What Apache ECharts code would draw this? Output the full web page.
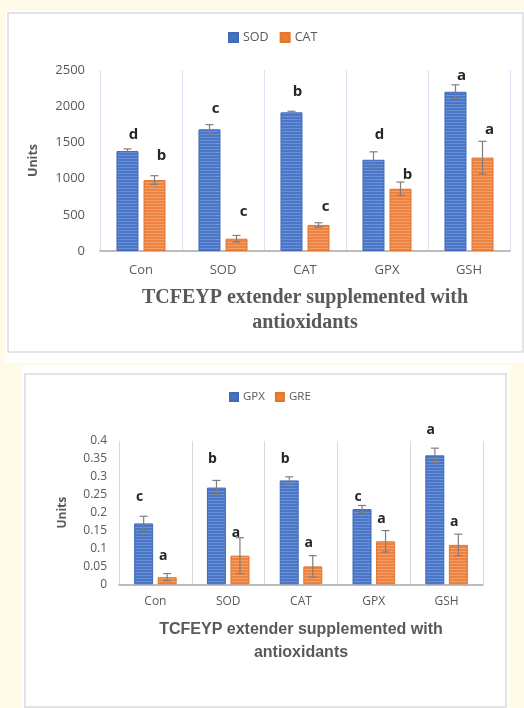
<!DOCTYPE html>
<html><head><meta charset="utf-8">
<script src="https://cdn.jsdelivr.net/npm/echarts@6/dist/echarts.min.js"></script>
<style>html,body{margin:0;padding:0;background:#fffbe8;}#c{width:524px;height:708px;}</style>
</head><body><div id="c"></div>
<script>
// ---- Chart 1 data ----
const categories = ['Con', 'SOD', 'CAT', 'GPX', 'GSH'];
const sodValues = [1380, 1680, 1915, 1260, 2200];
const sodErrors = [30, 65, 15, 110, 95];
const sodLetters = ['d', 'c', 'b', 'd', 'a'];
const sodLetterY = [1600, 1960, 2200, 1600, 2420];
const catValues = [980, 170, 360, 860, 1290];
const catErrors = [60, 45, 30, 92, 225];
const catLetters = ['b', 'c', 'c', 'b', 'a'];
const catLetterY = [1310, 540, 610, 1050, 1670];
const yTicks1 = [0, 500, 1000, 1500, 2000, 2500];

// ---- Chart 2 data ----
const gpxValues = [0.17, 0.27, 0.29, 0.21, 0.36];
const gpxErrors = [0.02, 0.02, 0.01, 0.01, 0.02];
const gpxLetters = ['c', 'b', 'b', 'c', 'a'];
const gpxLetterY = [0.245, 0.349, 0.351, 0.245, 0.431];
const greValues = [0.02, 0.08, 0.05, 0.12, 0.11];
const greErrors = [0.01, 0.05, 0.03, 0.03, 0.03];
const greLetters = ['a', 'a', 'a', 'a', 'a'];
const greLetterY = [0.080, 0.142, 0.116, 0.182, 0.175];
const yTicks2 = [0, 0.05, 0.1, 0.15, 0.2, 0.25, 0.3, 0.35, 0.4];

const axisTitle = 'TCFEYP extender supplemented with\nantioxidants';

const BLUE = '#4472c4', ORANGE = '#ed7d31', GREY = '#595959';

function stripes(base, light) {
  const c = document.createElement('canvas');
  c.width = 4; c.height = 3;
  const g = c.getContext('2d');
  g.fillStyle = base; g.fillRect(0, 0, 4, 3);
  g.fillStyle = light; g.fillRect(0, 2, 4, 1);
  return { image: c, repeat: 'repeat' };
}

function errSeries(gridIdx, values, errors, letters, letterY, side, barW, gap, dx, fontSize) {
  const data = values.map((v, i) => [i, v, errors[i], letterY[i]]);
  return {
    type: 'custom', xAxisIndex: gridIdx, yAxisIndex: gridIdx, z: 10, silent: true,
    data: data, encode: { x: 0, y: 1 }, clip: false,
    renderItem: function (params, api) {
      const i = api.value(0), v = api.value(1), e = api.value(2), ly = api.value(3);
      const c = api.coord([i, v]);
      const x = c[0] + side * (barW + gap) / 2;
      const hi = api.coord([i, v + e])[1];
      const lo = api.coord([i, v - e])[1];
      const t = api.coord([i, ly])[1];
      const st = { stroke: '#7f7f7f', lineWidth: 1.2 };
      return { type: 'group', children: [
        { type: 'line', shape: { x1: x, y1: hi, x2: x, y2: lo }, style: st },
        { type: 'line', shape: { x1: x - 4, y1: hi, x2: x + 4, y2: hi }, style: st },
        { type: 'line', shape: { x1: x - 4, y1: lo, x2: x + 4, y2: lo }, style: st },
        { type: 'text', x: x + dx, y: t, style: { text: letters[i], fill: '#262626', font: 'bold ' + fontSize + 'px "Open Sans"', textAlign: 'center', textVerticalAlign: 'middle' } }
      ]};
    }
  };
}

const chart = echarts.init(document.getElementById('c'), null, { renderer: 'canvas' });
const opt = {
  animation: false,
  backgroundColor: '#fffbe8',
  graphic: [
    { type: 'rect', shape: { x: 5, y: 10, width: 519, height: 353 }, style: { fill: '#ffffff' }, z: -10 },
    { type: 'rect', shape: { x: 8, y: 13, width: 515, height: 339 }, style: { fill: '#ffffff', stroke: '#dcdcdc', lineWidth: 1.5 }, z: -9 },
    { type: 'rect', shape: { x: 22, y: 365, width: 488, height: 343 }, style: { fill: '#ffffff' }, z: -10 },
    { type: 'rect', shape: { x: 25, y: 374, width: 481, height: 333 }, style: { fill: '#ffffff', stroke: '#dcdcdc', lineWidth: 1.5 }, z: -9 }
  ],
  legend: [
    { left: 223, top: 26, itemWidth: 9, itemHeight: 9, itemGap: 11, icon: 'rect',
      textStyle: { color: GREY, fontSize: 12.5, fontFamily: 'Open Sans' },
      data: [{ name: 'SOD', itemStyle: { color: BLUE } }, { name: 'CAT', itemStyle: { color: ORANGE } }] },
    { left: 224, top: 386, itemWidth: 8, itemHeight: 8, itemGap: 10, icon: 'rect',
      textStyle: { color: GREY, fontSize: 11.5, fontFamily: 'Open Sans' },
      data: [{ name: 'GPX', itemStyle: { color: BLUE } }, { name: 'GRE', itemStyle: { color: ORANGE } }] }
  ],
  grid: [
    { left: 100, top: 70, width: 410, height: 181 },
    { left: 119, top: 441, width: 364, height: 143.3 }
  ],
  xAxis: [
    { type: 'category', gridIndex: 0, data: categories,
      axisLine: { lineStyle: { color: '#a6a6a6', width: 1.5 } }, axisTick: { show: false },
      axisLabel: { color: GREY, fontSize: 13, fontFamily: 'Open Sans', margin: 13 },
      splitLine: { show: true, lineStyle: { color: '#d9e2f3', width: 1 } },
      name: axisTitle, nameLocation: 'middle', nameGap: 34,
      nameTextStyle: { color: GREY, fontFamily: 'Liberation Serif', fontWeight: 'bold', fontSize: 20, lineHeight: 25 } },
    { type: 'category', gridIndex: 1, data: categories,
      axisLine: { lineStyle: { color: '#a6a6a6', width: 1.5 } }, axisTick: { show: false },
      axisLabel: { color: GREY, fontSize: 12, fontFamily: 'Open Sans', margin: 11 },
      splitLine: { show: true, lineStyle: { color: '#d9d9d9', width: 1 } },
      name: axisTitle, nameLocation: 'middle', nameGap: 33.5,
      nameTextStyle: { color: GREY, fontFamily: 'Liberation Sans', fontWeight: 'bold', fontSize: 16, lineHeight: 23 } }
  ],
  yAxis: [
    { type: 'value', gridIndex: 0, min: yTicks1[0], max: yTicks1[yTicks1.length - 1], interval: yTicks1[1] - yTicks1[0],
      axisLine: { show: false }, axisTick: { show: false }, splitLine: { show: false },
      axisLabel: { color: GREY, fontSize: 13, fontFamily: 'Open Sans', margin: 15, formatter: v => String(v) },
      name: 'Units', nameLocation: 'middle', nameGap: 60,
      nameTextStyle: { color: GREY, fontSize: 12.5, fontWeight: 'bold', fontFamily: 'Open Sans' } },
    { type: 'value', gridIndex: 1, min: yTicks2[0], max: yTicks2[yTicks2.length - 1], interval: 0.05,
      axisLine: { show: false }, axisTick: { show: false }, splitLine: { show: false },
      axisLabel: { color: GREY, fontSize: 12, fontFamily: 'Open Sans', margin: 12,
        formatter: v => String(+v.toFixed(2)) },
      name: 'Units', nameLocation: 'middle', nameGap: 50,
      nameTextStyle: { color: GREY, fontSize: 12, fontWeight: 'bold', fontFamily: 'Open Sans' } }
  ],
  series: [
    { name: 'SOD', type: 'bar', xAxisIndex: 0, yAxisIndex: 0, data: sodValues, barWidth: 22, barGap: '23%',
      itemStyle: { color: stripes('#4a76c8', '#6e92d8'), borderColor: '#4069ba', borderWidth: 1 } },
    { name: 'CAT', type: 'bar', xAxisIndex: 0, yAxisIndex: 0, data: catValues, barWidth: 22, barGap: '23%',
      itemStyle: { color: stripes('#ee8240', '#f4a06a'), borderColor: '#e2762c', borderWidth: 1 } },
    { name: 'GPX', type: 'bar', xAxisIndex: 1, yAxisIndex: 1, data: gpxValues, barWidth: 19, barGap: '24%',
      itemStyle: { color: stripes('#4a76c8', '#6e92d8'), borderColor: '#4069ba', borderWidth: 1 } },
    { name: 'GRE', type: 'bar', xAxisIndex: 1, yAxisIndex: 1, data: greValues, barWidth: 19, barGap: '24%',
      itemStyle: { color: stripes('#ee8240', '#f4a06a'), borderColor: '#e2762c', borderWidth: 1 } },
    errSeries(0, sodValues, sodErrors, sodLetters, sodLetterY, -1, 22, 5, 6, 15),
    errSeries(0, catValues, catErrors, catLetters, catLetterY, 1, 22, 5, 7, 15),
    errSeries(1, gpxValues, gpxErrors, gpxLetters, gpxLetterY, -1, 19, 4.5, -4, 14),
    errSeries(1, greValues, greErrors, greLetters, greLetterY, 1, 19, 4.5, -4, 14)
  ]
};
chart.setOption(opt);
</script></body></html>
